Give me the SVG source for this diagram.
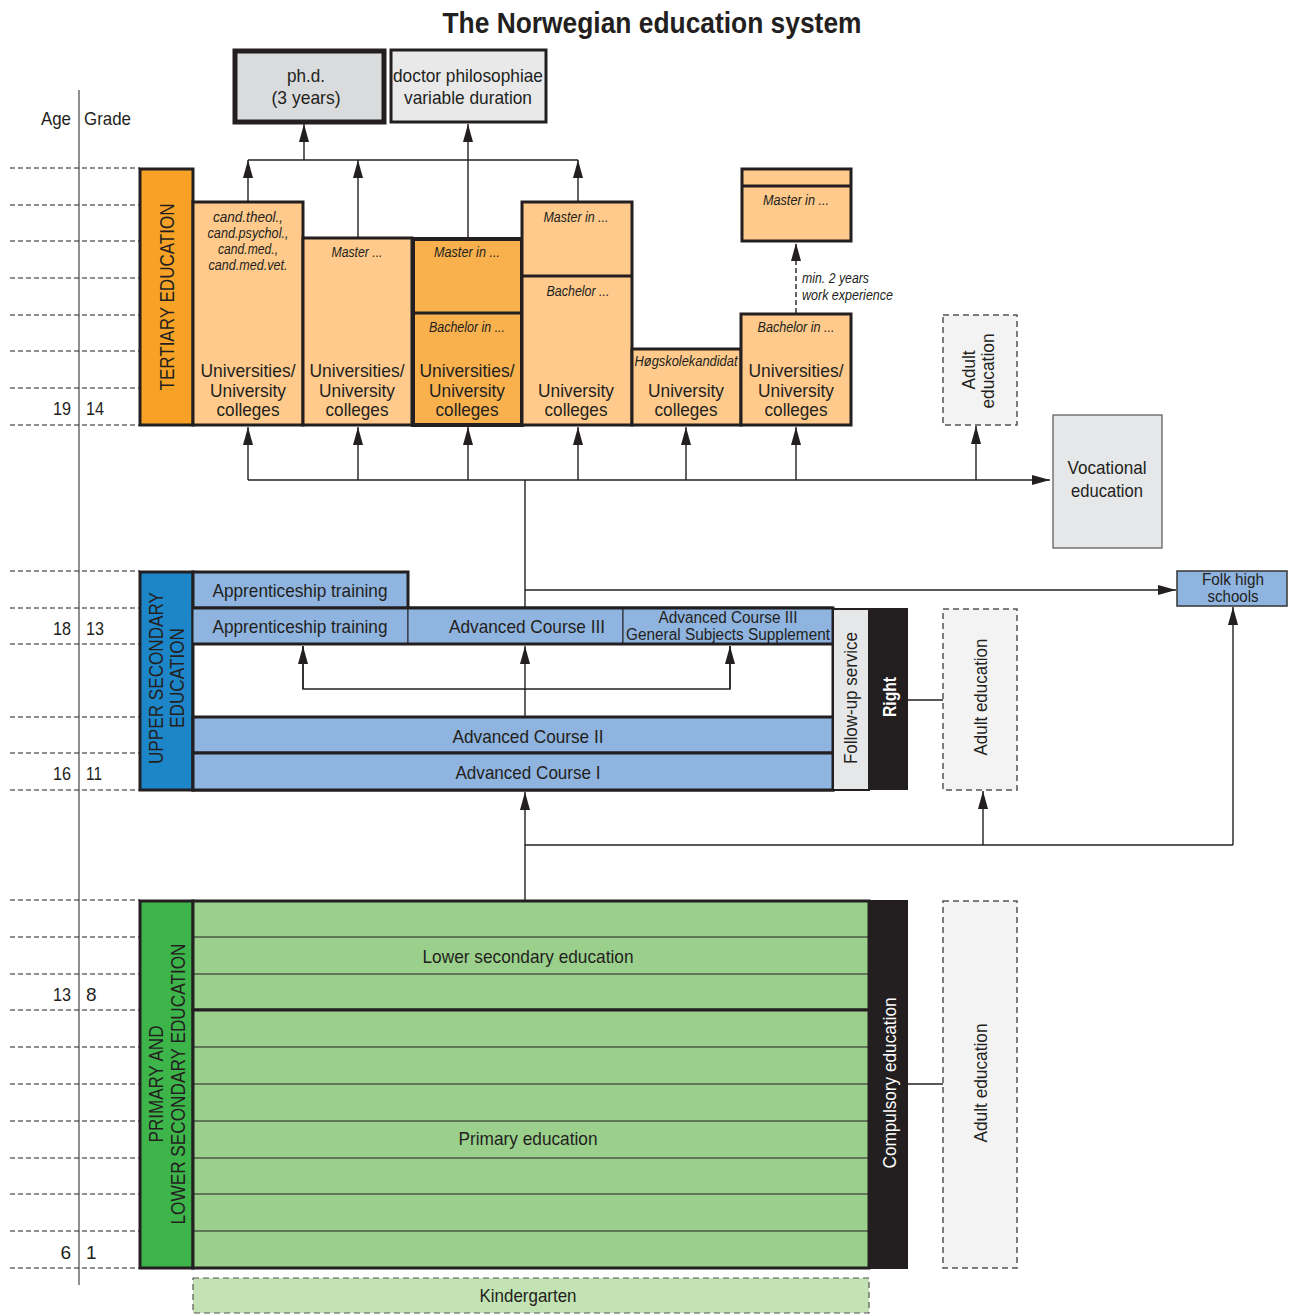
<svg xmlns="http://www.w3.org/2000/svg" width="1298" height="1315" viewBox="0 0 1298 1315">
<defs>
<marker id="ah" markerWidth="18" markerHeight="10" refX="18" refY="5" viewBox="0 0 18 10" markerUnits="userSpaceOnUse" orient="auto">
<path d="M0,0 L18,5 L0,10 Z" fill="#231F20"/>
</marker>
<style>
text{font-family:"Liberation Sans Narrow","Liberation Sans",Arial,sans-serif;fill:#231F20}
.t{font-size:19px;text-anchor:middle}
.it{font-size:14px;font-style:italic;text-anchor:middle}
.grid{stroke:#231F20;stroke-width:1;stroke-dasharray:5,3}
.box{stroke:#231F20;stroke-width:3}
.lo{fill:#FFCA8B}
.mo{fill:#F9B14D}
.lb{fill:#8FB4DF}
.gr{fill:#9BD08C}
.conn{stroke:#231F20;stroke-width:1.4;fill:none}
.dash{fill:#F3F3F3;stroke:#555;stroke-width:1.5;stroke-dasharray:6,4}
</style>
</defs>
<rect width="1298" height="1315" fill="#fff"/>
<text x="652" y="33" style="font-size:29px;font-weight:bold;text-anchor:middle" textLength="419" lengthAdjust="spacingAndGlyphs">The Norwegian education system</text>

<g id="axis">
<line x1="79" y1="90" x2="79" y2="1285" stroke="#231F20" stroke-width="1"/>
<text x="71" y="125" style="font-size:19px;text-anchor:end" textLength="30" lengthAdjust="spacingAndGlyphs">Age</text>
<text x="84" y="125" style="font-size:19px" textLength="47" lengthAdjust="spacingAndGlyphs">Grade</text>
<g class="grid">
<line x1="10" y1="168" x2="140" y2="168"/><line x1="10" y1="205" x2="140" y2="205"/><line x1="10" y1="241" x2="140" y2="241"/><line x1="10" y1="278" x2="140" y2="278"/><line x1="10" y1="315" x2="140" y2="315"/><line x1="10" y1="351" x2="140" y2="351"/><line x1="10" y1="388" x2="140" y2="388"/><line x1="10" y1="425" x2="140" y2="425"/>
<line x1="10" y1="571" x2="140" y2="571"/><line x1="10" y1="608" x2="140" y2="608"/><line x1="10" y1="644" x2="140" y2="644"/><line x1="10" y1="717" x2="140" y2="717"/><line x1="10" y1="753" x2="140" y2="753"/><line x1="10" y1="790" x2="140" y2="790"/>
<line x1="10" y1="900" x2="140" y2="900"/><line x1="10" y1="937" x2="140" y2="937"/><line x1="10" y1="974" x2="140" y2="974"/><line x1="10" y1="1010" x2="140" y2="1010"/><line x1="10" y1="1047" x2="140" y2="1047"/><line x1="10" y1="1084" x2="140" y2="1084"/><line x1="10" y1="1121" x2="140" y2="1121"/><line x1="10" y1="1158" x2="140" y2="1158"/><line x1="10" y1="1194" x2="140" y2="1194"/><line x1="10" y1="1231" x2="140" y2="1231"/><line x1="10" y1="1268" x2="140" y2="1268"/>
</g>
<g style="font-size:19px">
<text x="71" y="415" text-anchor="end" textLength="18" lengthAdjust="spacingAndGlyphs">19</text><text x="86" y="415" textLength="18" lengthAdjust="spacingAndGlyphs">14</text>
<text x="71" y="635" text-anchor="end" textLength="18" lengthAdjust="spacingAndGlyphs">18</text><text x="86" y="635" textLength="18" lengthAdjust="spacingAndGlyphs">13</text>
<text x="71" y="780" text-anchor="end" textLength="18" lengthAdjust="spacingAndGlyphs">16</text><text x="86" y="780" textLength="16" lengthAdjust="spacingAndGlyphs">11</text>
<text x="71" y="1001" text-anchor="end" textLength="18" lengthAdjust="spacingAndGlyphs">13</text><text x="86" y="1001">8</text>
<text x="71" y="1259" text-anchor="end">6</text><text x="86" y="1259">1</text>
</g>
</g>

<g id="phd">
<rect x="235" y="51" width="149" height="71" fill="#DADBDD" stroke="#231F20" stroke-width="5"/>
<text class="t" x="306" y="82" textLength="38" lengthAdjust="spacingAndGlyphs">ph.d.</text>
<text class="t" x="306" y="104" textLength="69" lengthAdjust="spacingAndGlyphs">(3 years)</text>
</g>
<g id="drphilos">
<rect x="391" y="50" width="155" height="72" fill="#E9E9EA" stroke="#231F20" stroke-width="3"/>
<text class="t" x="468" y="82" textLength="150" lengthAdjust="spacingAndGlyphs">doctor philosophiae</text>
<text class="t" x="468" y="104" textLength="128" lengthAdjust="spacingAndGlyphs">variable duration</text>
</g>

<g id="tertiary-label">
<rect class="box" x="140" y="169" width="53" height="256" fill="#F7A226"/>
<text class="t" transform="translate(174,297) rotate(-90)" style="font-size:21px" textLength="187" lengthAdjust="spacingAndGlyphs">TERTIARY EDUCATION</text>
</g>
<g id="col1">
<rect class="box lo" x="193" y="202" width="110" height="223"/>
<text class="it" x="248" y="222" textLength="70" lengthAdjust="spacingAndGlyphs">cand.theol.,</text>
<text class="it" x="248" y="238" textLength="81" lengthAdjust="spacingAndGlyphs">cand.psychol.,</text>
<text class="it" x="248" y="254" textLength="60" lengthAdjust="spacingAndGlyphs">cand.med.,</text>
<text class="it" x="248" y="270" textLength="79" lengthAdjust="spacingAndGlyphs">cand.med.vet.</text>
<text class="t" x="248" y="377" textLength="95" lengthAdjust="spacingAndGlyphs">Universities/</text>
<text class="t" x="248" y="397" textLength="76" lengthAdjust="spacingAndGlyphs">University</text>
<text class="t" x="248" y="416" textLength="63" lengthAdjust="spacingAndGlyphs">colleges</text>
</g>
<g id="col2">
<rect class="box lo" x="303" y="238" width="109" height="187"/>
<text class="it" x="357" y="257" textLength="51" lengthAdjust="spacingAndGlyphs">Master ...</text>
<text class="t" x="357" y="377" textLength="95" lengthAdjust="spacingAndGlyphs">Universities/</text>
<text class="t" x="357" y="397" textLength="76" lengthAdjust="spacingAndGlyphs">University</text>
<text class="t" x="357" y="416" textLength="63" lengthAdjust="spacingAndGlyphs">colleges</text>
</g>
<g id="col3">
<rect x="413" y="239" width="109" height="186" class="mo" stroke="#231F20" stroke-width="4"/>
<line x1="413" y1="313" x2="522" y2="313" stroke="#231F20" stroke-width="3"/>
<text class="it" x="467" y="257" textLength="66" lengthAdjust="spacingAndGlyphs">Master in ...</text>
<text class="it" x="467" y="332" textLength="76" lengthAdjust="spacingAndGlyphs">Bachelor in ...</text>
<text class="t" x="467" y="377" textLength="95" lengthAdjust="spacingAndGlyphs">Universities/</text>
<text class="t" x="467" y="397" textLength="76" lengthAdjust="spacingAndGlyphs">University</text>
<text class="t" x="467" y="416" textLength="63" lengthAdjust="spacingAndGlyphs">colleges</text>
</g>
<g id="col4">
<rect class="box lo" x="522" y="202" width="110" height="223"/>
<line x1="522" y1="276" x2="632" y2="276" stroke="#231F20" stroke-width="3"/>
<text class="it" x="576" y="222" textLength="65" lengthAdjust="spacingAndGlyphs">Master in ...</text>
<text class="it" x="578" y="296" textLength="63" lengthAdjust="spacingAndGlyphs">Bachelor ...</text>
<text class="t" x="576" y="397" textLength="76" lengthAdjust="spacingAndGlyphs">University</text>
<text class="t" x="576" y="416" textLength="63" lengthAdjust="spacingAndGlyphs">colleges</text>
</g>
<g id="col5">
<rect class="box lo" x="632" y="349" width="109" height="76"/>
<text class="it" x="686" y="366" textLength="103" lengthAdjust="spacingAndGlyphs">Høgskolekandidat</text>
<text class="t" x="686" y="397" textLength="76" lengthAdjust="spacingAndGlyphs">University</text>
<text class="t" x="686" y="416" textLength="63" lengthAdjust="spacingAndGlyphs">colleges</text>
</g>
<g id="col6">
<rect class="box lo" x="741" y="314" width="110" height="111"/>
<text class="it" x="796" y="332" textLength="77" lengthAdjust="spacingAndGlyphs">Bachelor in ...</text>
<text class="t" x="796" y="377" textLength="95" lengthAdjust="spacingAndGlyphs">Universities/</text>
<text class="t" x="796" y="397" textLength="76" lengthAdjust="spacingAndGlyphs">University</text>
<text class="t" x="796" y="416" textLength="63" lengthAdjust="spacingAndGlyphs">colleges</text>
</g>
<g id="col6-master">
<rect class="box lo" x="742" y="169" width="109" height="72"/>
<line x1="742" y1="186" x2="851" y2="186" stroke="#231F20" stroke-width="3"/>
<text class="it" x="796" y="205" textLength="66" lengthAdjust="spacingAndGlyphs">Master in ...</text>
</g>
<g id="workexp">
<text x="802" y="283" style="font-size:14px;font-style:italic" textLength="67" lengthAdjust="spacingAndGlyphs">min. 2 years</text>
<text x="802" y="300" style="font-size:14px;font-style:italic" textLength="91" lengthAdjust="spacingAndGlyphs">work experience</text>
</g>
<g id="adult1">
<rect class="dash" x="943" y="315" width="74" height="110"/>
<text class="t" transform="translate(975,370) rotate(-90)" textLength="39" lengthAdjust="spacingAndGlyphs">Adult</text>
<text class="t" transform="translate(994,371) rotate(-90)" textLength="75" lengthAdjust="spacingAndGlyphs">education</text>
</g>
<g id="vocational">
<rect x="1053" y="415" width="109" height="133" fill="#E6E7E8" stroke="#555" stroke-width="1.2"/>
<text class="t" x="1107" y="474" textLength="79" lengthAdjust="spacingAndGlyphs">Vocational</text>
<text class="t" x="1107" y="497" textLength="72" lengthAdjust="spacingAndGlyphs">education</text>
</g>
<g id="folkhigh">
<rect x="1177" y="571" width="110" height="35" class="lb" stroke="#333" stroke-width="1.5"/>
<text class="t" x="1233" y="585" style="font-size:16px" textLength="62" lengthAdjust="spacingAndGlyphs">Folk high</text>
<text class="t" x="1233" y="602" style="font-size:16px" textLength="51" lengthAdjust="spacingAndGlyphs">schools</text>
</g>

<g id="upper-label">
<rect class="box" x="140" y="572" width="53" height="218" fill="#1C86C9"/>
<text class="t" transform="translate(163,678) rotate(-90)" style="font-size:20px" textLength="172" lengthAdjust="spacingAndGlyphs">UPPER SECONDARY</text>
<text class="t" transform="translate(184,678) rotate(-90)" style="font-size:20px" textLength="100" lengthAdjust="spacingAndGlyphs">EDUCATION</text>
</g>
<g id="upper-frame">
<rect x="193" y="608" width="640" height="182" fill="#fff" stroke="#231F20" stroke-width="3"/>
</g>
<g id="appr1">
<rect class="lb" x="193" y="572" width="215" height="36" stroke="#231F20" stroke-width="3"/>
<text class="t" x="300" y="597" textLength="175" lengthAdjust="spacingAndGlyphs">Apprenticeship training</text>
</g>
<g id="appr2">
<rect class="lb" x="193" y="608" width="215" height="36" stroke="#231F20" stroke-width="1"/>
<text class="t" x="300" y="633" textLength="175" lengthAdjust="spacingAndGlyphs">Apprenticeship training</text>
</g>
<g id="adv3">
<rect class="lb" x="408" y="608" width="215" height="36" stroke="#231F20" stroke-width="1"/>
<text class="t" x="527" y="633" textLength="156" lengthAdjust="spacingAndGlyphs">Advanced Course III</text>
</g>
<g id="adv3gen">
<rect class="lb" x="623" y="608" width="209" height="36" stroke="#231F20" stroke-width="1"/>
<text class="t" x="728" y="623" style="font-size:16px" textLength="139" lengthAdjust="spacingAndGlyphs">Advanced Course III</text>
<text class="t" x="728" y="640" style="font-size:16px" textLength="204" lengthAdjust="spacingAndGlyphs">General Subjects Supplement</text>
</g>
<g id="upper-lines">
<line x1="193" y1="608" x2="833" y2="608" stroke="#231F20" stroke-width="3"/>
<line x1="193" y1="644" x2="833" y2="644" stroke="#231F20" stroke-width="3"/>
</g>
<g id="adv2">
<rect class="lb" x="193" y="717" width="640" height="36" stroke="#231F20" stroke-width="3"/>
<text class="t" x="528" y="743" textLength="151" lengthAdjust="spacingAndGlyphs">Advanced Course II</text>
</g>
<g id="adv1">
<rect class="lb" x="193" y="753" width="640" height="37" stroke="#231F20" stroke-width="3"/>
<text class="t" x="528" y="779" textLength="145" lengthAdjust="spacingAndGlyphs">Advanced Course I</text>
</g>
<g id="followup">
<rect x="833" y="609" width="36" height="181" fill="#E6E7E8" stroke="#231F20" stroke-width="2"/>
<text class="t" transform="translate(857,698) rotate(-90)" textLength="132" lengthAdjust="spacingAndGlyphs">Follow-up service</text>
</g>
<g id="right">
<rect x="869" y="608" width="39" height="182" fill="#231F20"/>
<text class="t" transform="translate(896,697) rotate(-90)" style="font-weight:bold;fill:#fff" textLength="40" lengthAdjust="spacingAndGlyphs">Right</text>
</g>
<g id="adult2">
<rect class="dash" x="943" y="609" width="74" height="181"/>
<text class="t" transform="translate(987,697) rotate(-90)" textLength="117" lengthAdjust="spacingAndGlyphs">Adult education</text>
</g>

<g id="primary-label">
<rect class="box" x="140" y="901" width="53" height="367" fill="#3DB54A"/>
<text class="t" transform="translate(163,1084) rotate(-90)" style="font-size:20px" textLength="117" lengthAdjust="spacingAndGlyphs">PRIMARY AND</text>
<text class="t" transform="translate(185,1084) rotate(-90)" style="font-size:20px" textLength="281" lengthAdjust="spacingAndGlyphs">LOWER SECONDARY EDUCATION</text>
</g>
<g id="lower-secondary">
<rect class="gr" x="193" y="901" width="676" height="109" stroke="#231F20" stroke-width="3"/>
<line x1="193" y1="937" x2="869" y2="937" stroke="#231F20" stroke-width="1"/>
<line x1="193" y1="974" x2="869" y2="974" stroke="#231F20" stroke-width="1"/>
<text class="t" x="528" y="963" textLength="211" lengthAdjust="spacingAndGlyphs">Lower secondary education</text>
</g>
<g id="primary">
<rect class="gr" x="193" y="1010" width="676" height="258" stroke="#231F20" stroke-width="3"/>
<line x1="193" y1="1047" x2="869" y2="1047" stroke="#231F20" stroke-width="1"/>
<line x1="193" y1="1084" x2="869" y2="1084" stroke="#231F20" stroke-width="1"/>
<line x1="193" y1="1121" x2="869" y2="1121" stroke="#231F20" stroke-width="1"/>
<line x1="193" y1="1158" x2="869" y2="1158" stroke="#231F20" stroke-width="1"/>
<line x1="193" y1="1194" x2="869" y2="1194" stroke="#231F20" stroke-width="1"/>
<line x1="193" y1="1231" x2="869" y2="1231" stroke="#231F20" stroke-width="1"/>
<text class="t" x="528" y="1145" textLength="139" lengthAdjust="spacingAndGlyphs">Primary education</text>
</g>
<g id="compulsory">
<rect x="869" y="900" width="39" height="369" fill="#231F20"/>
<text class="t" transform="translate(896,1083) rotate(-90)" style="fill:#fff" textLength="171" lengthAdjust="spacingAndGlyphs">Compulsory education</text>
</g>
<g id="adult3">
<rect class="dash" x="943" y="901" width="74" height="367"/>
<text class="t" transform="translate(987,1083) rotate(-90)" textLength="119" lengthAdjust="spacingAndGlyphs">Adult education</text>
</g>
<g id="kindergarten">
<rect x="193" y="1278" width="676" height="35" fill="#C3E3B4" stroke="#555" stroke-width="1.2" stroke-dasharray="6,4"/>
<text class="t" x="528" y="1302" textLength="97" lengthAdjust="spacingAndGlyphs">Kindergarten</text>
</g>

<g id="connectors">
<line class="conn" x1="248" y1="160" x2="578" y2="160"/>
<line class="conn" x1="304" y1="160" x2="304" y2="124" marker-end="url(#ah)"/>
<line class="conn" x1="468" y1="238" x2="468" y2="124" marker-end="url(#ah)"/>
<line class="conn" x1="248" y1="201" x2="248" y2="160" marker-end="url(#ah)"/>
<line class="conn" x1="358" y1="237" x2="358" y2="160" marker-end="url(#ah)"/>
<line class="conn" x1="578" y1="201" x2="578" y2="160" marker-end="url(#ah)"/>
<line class="conn" x1="796" y1="313" x2="796" y2="243" stroke-dasharray="5,3" marker-end="url(#ah)"/>
<line class="conn" x1="248" y1="480" x2="1050" y2="480" marker-end="url(#ah)"/>
<line class="conn" x1="248" y1="480" x2="248" y2="427" marker-end="url(#ah)"/>
<line class="conn" x1="358" y1="480" x2="358" y2="427" marker-end="url(#ah)"/>
<line class="conn" x1="468" y1="480" x2="468" y2="427" marker-end="url(#ah)"/>
<line class="conn" x1="578" y1="480" x2="578" y2="427" marker-end="url(#ah)"/>
<line class="conn" x1="686" y1="480" x2="686" y2="427" marker-end="url(#ah)"/>
<line class="conn" x1="796" y1="480" x2="796" y2="427" marker-end="url(#ah)"/>
<line class="conn" x1="976" y1="480" x2="976" y2="426" marker-end="url(#ah)"/>
<line class="conn" x1="525" y1="480" x2="525" y2="607"/>
<line class="conn" x1="525" y1="590" x2="1176" y2="590" marker-end="url(#ah)"/>
<line class="conn" x1="525" y1="716" x2="525" y2="646" marker-end="url(#ah)"/>
<polyline class="conn" points="303,646 303,689 730,689 730,646"/>
<line class="conn" x1="303" y1="689" x2="303" y2="646" marker-end="url(#ah)"/>
<line class="conn" x1="730" y1="689" x2="730" y2="646" marker-end="url(#ah)"/>
<line class="conn" x1="525" y1="900" x2="525" y2="792" marker-end="url(#ah)"/>
<line class="conn" x1="525" y1="845" x2="1233" y2="845"/>
<line class="conn" x1="983" y1="845" x2="983" y2="791" marker-end="url(#ah)"/>
<line class="conn" x1="1233" y1="845" x2="1233" y2="607" marker-end="url(#ah)"/>
<line class="conn" x1="908" y1="700" x2="943" y2="700"/>
<line class="conn" x1="908" y1="1084" x2="943" y2="1084"/>
</g>
</svg>
